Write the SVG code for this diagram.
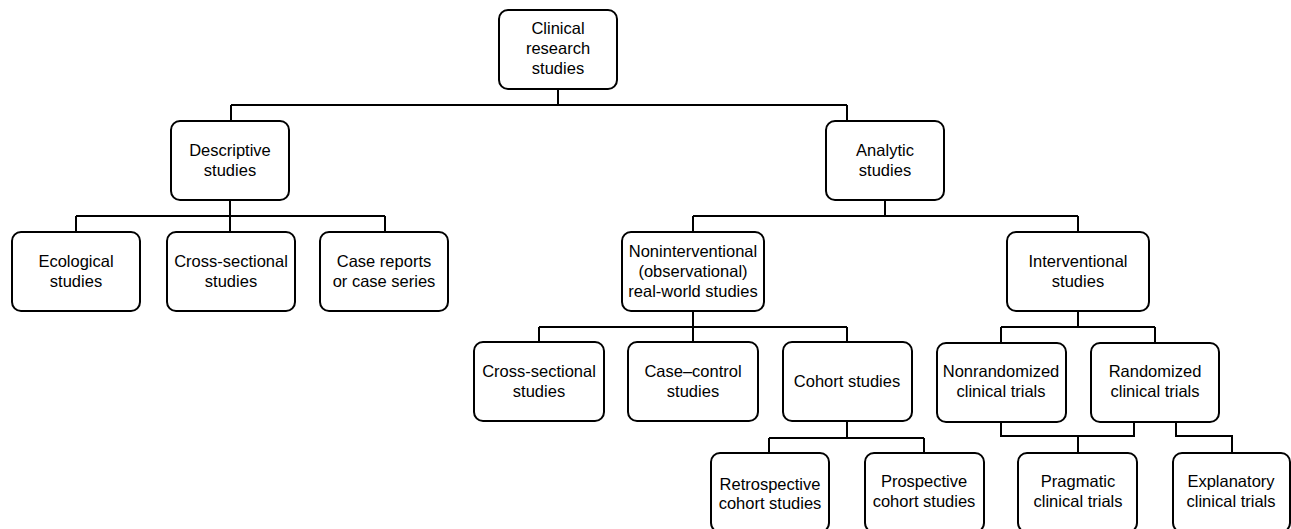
<svg xmlns="http://www.w3.org/2000/svg" width="1291" height="529" viewBox="0 0 1291 529">
<style>
.box{fill:#fff;stroke:#000;stroke-width:2}
.t{font-family:"Liberation Sans",Arial,sans-serif;font-size:16.5px;fill:#000;text-anchor:middle}
.c{fill:none;stroke:#000;stroke-width:2}
</style>
<rect width="1291" height="529" fill="#fff"/>
<g id="connectors">
<path class="c" d="M558 89V105M231 105H847M231 105V121M847 105V121"/>
<path class="c" d="M230 200V216M76 216H385M76 216V232M230 216V232M385 216V232"/>
<path class="c" d="M885 200V216M693 216H1078M693 216V232M1078 216V232"/>
<path class="c" d="M693 311V327M539 327H847M539 327V342M693 327V342M847 327V342"/>
<path class="c" d="M1078 311V327M1001 327H1155M1001 327V343M1155 327V343"/>
<path class="c" d="M847 421V438M769 438H924M769 438V453M924 438V453"/>
<path class="c" d="M1001 422V436H1134V422M1078 436V453"/>
<path class="c" d="M1176 422V436H1232V453"/>
</g>
<g id="root"><rect class="box" x="499" y="10" width="118" height="79" rx="9"/><text class="t" x="558" y="34">Clinical</text><text class="t" x="558" y="54">research</text><text class="t" x="558" y="74">studies</text></g>
<g id="descriptive"><rect class="box" x="171" y="121" width="118" height="79" rx="9"/><text class="t" x="230" y="156">Descriptive</text><text class="t" x="230" y="176">studies</text></g>
<g id="analytic"><rect class="box" x="826" y="121" width="118" height="79" rx="9"/><text class="t" x="885" y="156">Analytic</text><text class="t" x="885" y="176">studies</text></g>
<g id="ecological"><rect class="box" x="12" y="232" width="128" height="79" rx="9"/><text class="t" x="76" y="267">Ecological</text><text class="t" x="76" y="287">studies</text></g>
<g id="cross1"><rect class="box" x="167" y="232" width="128" height="79" rx="9"/><text class="t" x="231" y="267">Cross-sectional</text><text class="t" x="231" y="287">studies</text></g>
<g id="casereports"><rect class="box" x="320" y="232" width="128" height="79" rx="9"/><text class="t" x="384" y="267">Case reports</text><text class="t" x="384" y="287">or case series</text></g>
<g id="noninterventional"><rect class="box" x="622" y="232" width="142" height="79" rx="9"/><text class="t" x="693" y="257">Noninterventional</text><text class="t" x="693" y="277">(observational)</text><text class="t" x="693" y="297">real-world studies</text></g>
<g id="interventional"><rect class="box" x="1007" y="232" width="142" height="79" rx="9"/><text class="t" x="1078" y="267">Interventional</text><text class="t" x="1078" y="287">studies</text></g>
<g id="cross2"><rect class="box" x="474" y="342" width="130" height="79" rx="9"/><text class="t" x="539" y="377">Cross-sectional</text><text class="t" x="539" y="397">studies</text></g>
<g id="casecontrol"><rect class="box" x="628" y="342" width="130" height="79" rx="9"/><text class="t" x="693" y="377">Case–control</text><text class="t" x="693" y="397">studies</text></g>
<g id="cohort"><rect class="box" x="783" y="342" width="129" height="79" rx="9"/><text class="t" x="847" y="387">Cohort studies</text></g>
<g id="nonrandomized"><rect class="box" x="937" y="343" width="129" height="79" rx="9"/><text class="t" x="1001" y="377">Nonrandomized</text><text class="t" x="1001" y="397">clinical trials</text></g>
<g id="randomized"><rect class="box" x="1091" y="343" width="128" height="79" rx="9"/><text class="t" x="1155" y="377">Randomized</text><text class="t" x="1155" y="397">clinical trials</text></g>
<g id="retrospective"><rect class="box" x="711" y="453" width="118" height="79" rx="9"/><text class="t" x="770" y="490">Retrospective</text><text class="t" x="770" y="509">cohort studies</text></g>
<g id="prospective"><rect class="box" x="865" y="453" width="119" height="79" rx="9"/><text class="t" x="924" y="487">Prospective</text><text class="t" x="924" y="507">cohort studies</text></g>
<g id="pragmatic"><rect class="box" x="1018" y="453" width="119" height="79" rx="9"/><text class="t" x="1078" y="487">Pragmatic</text><text class="t" x="1078" y="507">clinical trials</text></g>
<g id="explanatory"><rect class="box" x="1173" y="453" width="117" height="79" rx="9"/><text class="t" x="1231" y="487">Explanatory</text><text class="t" x="1231" y="507">clinical trials</text></g>
</svg>
